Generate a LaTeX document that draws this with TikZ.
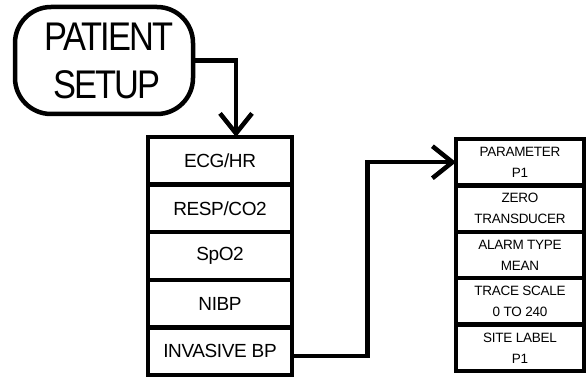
\documentclass[tikz,border=0pt]{standalone}
\usepackage{fontspec}
\setmainfont{Liberation Sans}
\newfontfamily\bigfont[FakeStretch=0.86,LetterSpace=-5]{Liberation Sans}
\newfontfamily\rowfont[LetterSpace=-2]{Liberation Sans}
\usetikzlibrary{arrows.meta}
\begin{document}
\begin{tikzpicture}[x=1pt,y=-1pt,line width=4.5pt,
  lrow/.style={draw,rectangle,inner sep=0pt,outer sep=0pt,minimum width=144pt,minimum height=47.6pt,font=\rowfont\fontsize{19}{22}\selectfont},
  rrow/.style={draw,rectangle,inner sep=0pt,outer sep=0pt,minimum width=128pt,minimum height=46.4pt,align=center,font=\rowfont\fontsize{13.5}{21}\selectfont},
  conn/.style={line width=4.5pt,-{Straight Barb[length=20pt,width=32pt]}}]
\useasboundingbox (0,0) rectangle (586,377);
% start node
\node[draw,rectangle,rounded corners=36pt,inner sep=0pt,outer sep=0pt,minimum width=178pt,minimum height=107pt,align=center,font=\bigfont\fontsize{40}{48}\selectfont] (ps) at (104,60.5) {\hspace*{10pt}PATIENT\\\hspace*{6pt}SETUP};
% left box
\node[lrow] (lb1) at (220,160.8) {ECG/HR};
\node[lrow] (lb2) at (220,208.4) {RESP/CO2};
\node[lrow] (lb3) at (220,256) {SpO2};
\node[lrow] (lb4) at (220,303.6) {NIBP};
\node[lrow] (lb5) at (220,351.2) {INVASIVE BP};
% right box
\node[rrow] (rb1) at (520,162.2) {PARAMETER\\P1};
\node[rrow] (rb2) at (520,208.6) {ZERO\\TRANSDUCER};
\node[rrow] (rb3) at (520,255) {ALARM TYPE\\MEAN};
\node[rrow] (rb4) at (520,301.4) {TRACE SCALE\\0 TO 240};
\node[rrow] (rb5) at (520,347.8) {SITE LABEL\\P1};
% connectors
\coordinate (bend) at (367.5,0);
\draw[conn] (ps.east) -| ([xshift=16pt]lb1.north);
\draw[conn] ([yshift=-5pt]lb5.east) -| (bend |- rb1.west) -- (rb1.west);
\end{tikzpicture}
\end{document}
